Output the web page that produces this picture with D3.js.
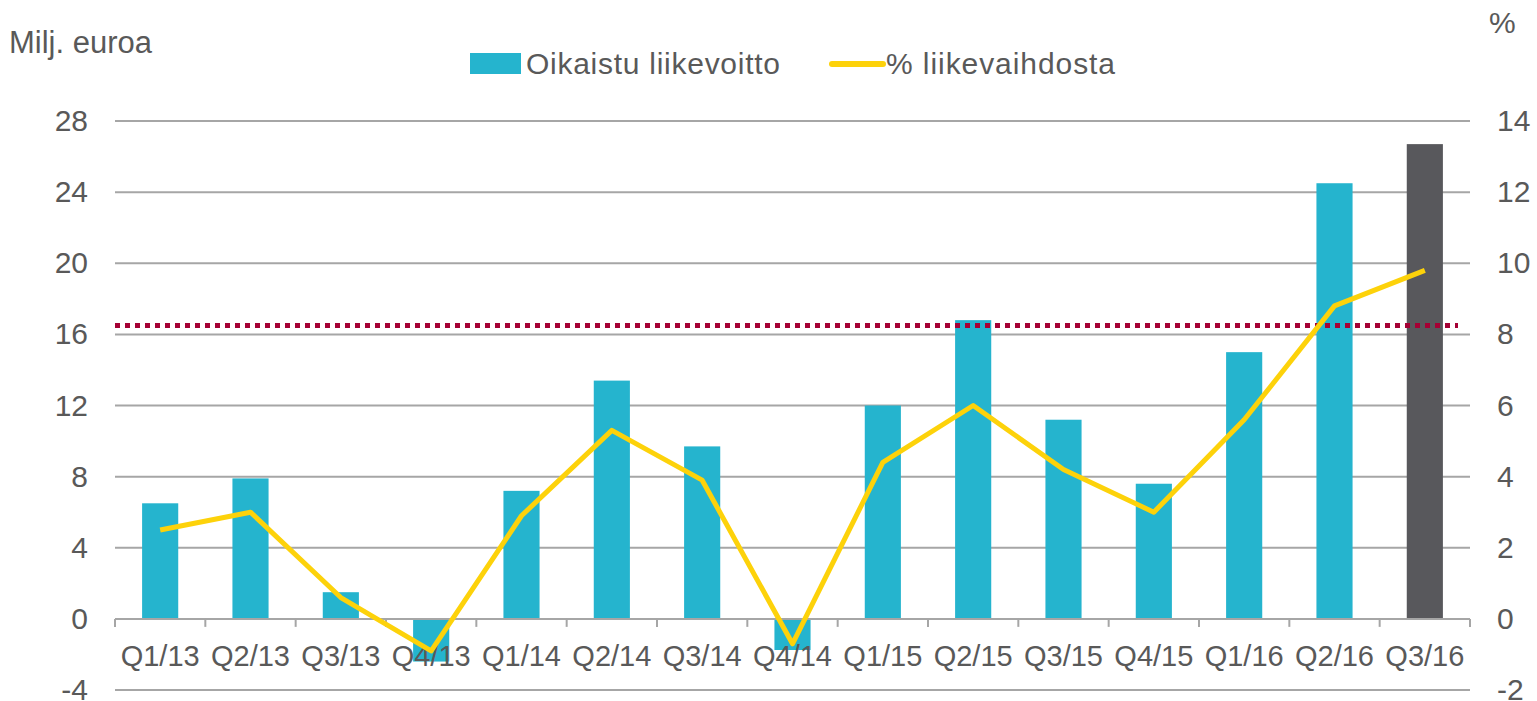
<!DOCTYPE html>
<html><head><meta charset="utf-8">
<script src="https://cdn.jsdelivr.net/npm/d3@7"></script>
<style>
html,body{margin:0;padding:0;background:#fff;}
svg{display:block;font-family:"Liberation Sans",Arial,sans-serif;}
</style></head>
<body><svg id="chart" width="1537" height="701"></svg>
<script>
const categories = ["Q1/13","Q2/13","Q3/13","Q4/13","Q1/14","Q2/14","Q3/14","Q4/14","Q1/15","Q2/15","Q3/15","Q4/15","Q1/16","Q2/16","Q3/16"];
const profit = [6.5,7.9,1.5,-2.4,7.2,13.4,9.7,-1.75,12.0,16.8,11.2,7.6,15.0,24.5,26.7];
const pct = [2.5,3.0,0.6,-0.9,2.9,5.3,3.9,-0.7,4.4,6.0,4.2,3.0,5.6,8.8,9.8];
const leftTicks = [-4,0,4,8,12,16,20,24,28];
const rightTicks = [-2,0,2,4,6,8,10,12,14];
const targetLevel = 16.5;
const seriesNames = ["Oikaistu liikevoitto","% liikevaihdosta"];
const leftTitle = "Milj. euroa";
const rightTitle = "%";

const svg = d3.select("#chart");
const m = {left:115, right:1470, top:121, bottom:690};
const x = d3.scaleBand().domain(categories).range([m.left,m.right]).paddingInner(0.6).paddingOuter(0.3);
const xb = d3.scaleBand().domain(categories).range([m.left,m.right]);
const yL = d3.scaleLinear().domain([-4,28]).range([m.bottom,m.top]);
const yR = d3.scaleLinear().domain([-2,14]).range([m.bottom,m.top]);
const textCol = "#595959", gridCol = "#A6A6A6";
const teal = "#25B4CE", dark = "#58585C", yellow = "#FDD20A", red = "#A50034";

// gridlines
svg.append("g").selectAll("line").data(leftTicks).join("line")
  .attr("x1",m.left).attr("x2",m.right)
  .attr("y1",d=>yL(d)).attr("y2",d=>yL(d))
  .attr("stroke",gridCol).attr("stroke-width",2);

// left labels
svg.append("g").selectAll("text").data(leftTicks).join("text")
  .attr("x",88).attr("y",d=>yL(d)+10).attr("text-anchor","end")
  .attr("font-size",30).attr("fill",textCol).text(d=>d);
// right labels
svg.append("g").selectAll("text").data(rightTicks).join("text")
  .attr("x",1497).attr("y",d=>yR(d)+10).attr("text-anchor","start")
  .attr("font-size",30).attr("fill",textCol).text(d=>d);

// bars
svg.append("g").selectAll("rect").data(profit).join("rect")
  .attr("x",(d,i)=>x(categories[i]))
  .attr("width",x.bandwidth())
  .attr("y",d=>yL(Math.max(0,d)))
  .attr("height",d=>Math.abs(yL(d)-yL(0)))
  .attr("fill",(d,i)=>i===categories.length-1?dark:teal);

// x axis
const xAxis = svg.append("g").attr("transform",`translate(0,${yL(0)})`);
xAxis.append("line").attr("x1",m.left).attr("x2",m.right).attr("stroke",gridCol).attr("stroke-width",2);
const bounds = categories.map(c=>xb(c)).concat([m.right]);
xAxis.selectAll("line.tk").data(bounds).join("line").attr("class","tk")
  .attr("x1",d=>d).attr("x2",d=>d).attr("y1",0).attr("y2",8)
  .attr("stroke",gridCol).attr("stroke-width",2);
xAxis.selectAll("text").data(categories).join("text")
  .attr("x",d=>xb(d)+xb.bandwidth()/2).attr("y",47)
  .attr("text-anchor","middle").attr("font-size",29).attr("fill",textCol).text(d=>d);

// dotted target line
svg.append("line").attr("x1",m.left).attr("x2",1458)
  .attr("y1",yL(targetLevel)).attr("y2",yL(targetLevel))
  .attr("stroke",red).attr("stroke-width",5).attr("stroke-dasharray","5,5");

// line
const line = d3.line().x((d,i)=>xb(categories[i])+xb.bandwidth()/2).y(d=>yR(d));
svg.append("path").datum(pct).attr("d",line).attr("fill","none")
  .attr("stroke",yellow).attr("stroke-width",5).attr("stroke-linejoin","round");

// titles
svg.append("text").attr("x",9).attr("y",53).attr("font-size",31).attr("fill",textCol).text(leftTitle);
svg.append("text").attr("x",1489).attr("y",33).attr("font-size",30).attr("fill",textCol).text(rightTitle);

// legend
svg.append("rect").attr("x",470).attr("y",53).attr("width",51).attr("height",21).attr("fill",teal);
svg.append("text").attr("x",526).attr("y",74).attr("font-size",30).attr("fill",textCol).attr("textLength",254).text(seriesNames[0]);
svg.append("line").attr("x1",832).attr("x2",883).attr("y1",64).attr("y2",64)
  .attr("stroke",yellow).attr("stroke-width",6).attr("stroke-linecap","round");
svg.append("text").attr("x",886).attr("y",74).attr("font-size",30).attr("fill",textCol).attr("textLength",229).text(seriesNames[1]);
</script></body></html>
